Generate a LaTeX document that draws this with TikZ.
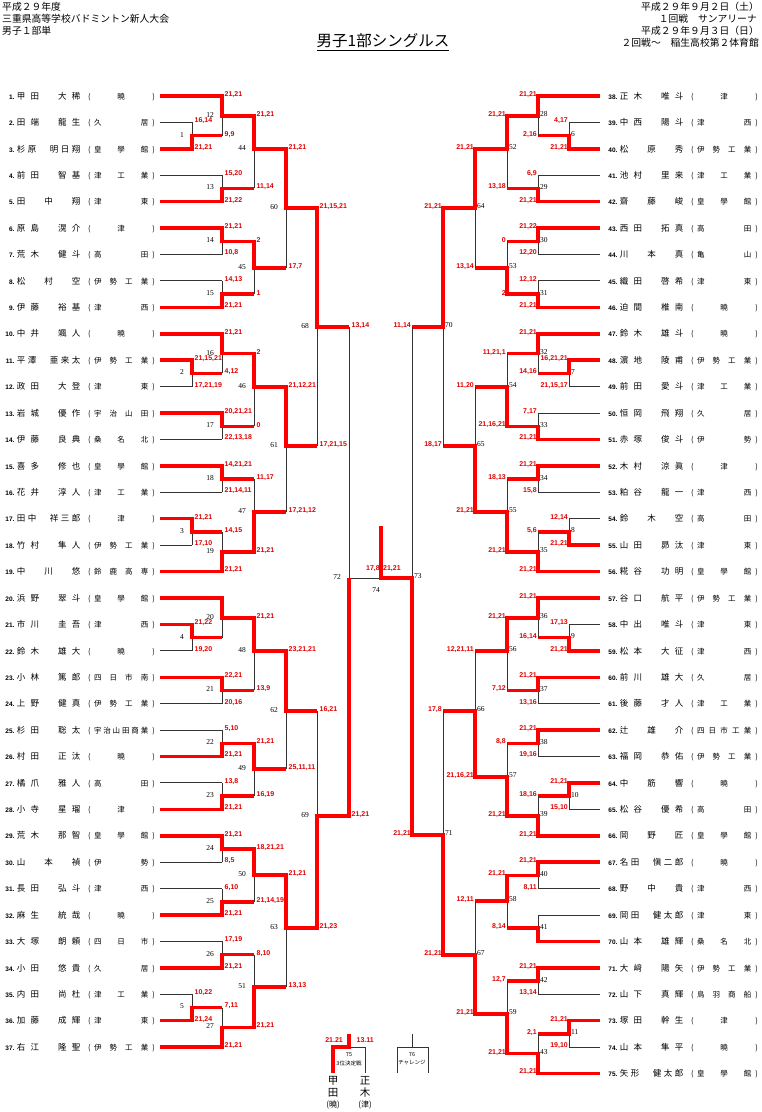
\documentclass[tikz,border=0pt]{standalone}
\usepackage{fontspec}
\setmainfont{Liberation Sans}
\newfontfamily\jp{Noto Sans CJK JP}
\newfontfamily\serf{Liberation Serif}
\definecolor{scred}{RGB}{225,0,0}
\newcommand\scf{\fontsize{7}{7}\selectfont\bfseries}
\newcommand\mnf{\serf\fontsize{7.5}{7.5}\selectfont}
\newcommand\numf{\fontsize{6.5}{6.5}\selectfont\bfseries}
\newcommand\namef{\jp\fontsize{8.5}{8.5}\selectfont}
\newcommand\schf{\jp\fontsize{7.5}{7.5}\selectfont}
\newcommand\hdf{\jp\fontsize{9.8}{9.8}\selectfont}
\newcommand\titf{\jp\fontsize{15.5}{15.5}\selectfont}
\newcommand\bnf{\jp\fontsize{10.5}{10.5}\selectfont}
\newcommand\bsf{\jp\fontsize{8}{8}\selectfont}
\newcommand\tinyf{\jp\fontsize{5.5}{5.5}\selectfont}
\let\E\relax
\def\Sak{\E,曉,\E}
\def\Shi{久,居}
\def\Sko{皇,學,館}
\def\Stk{津,工,業}
\def\Sth{津,東}
\def\Stu{\E,津,\E}
\def\Sta{高,田}
\def\Sik{伊,勢,工,業}
\def\Stn{津,西}
\def\Suj{宇,治,山,田}
\def\Skn{桑,名,北}
\def\Ssk{鈴,鹿,高,専}
\def\Syn{四,日,市,南}
\def\Sus{宇,治,山,田,商,業}
\def\Sis{伊,勢}
\def\Syo{四,日,市}
\def\Skm{亀,山}
\def\Syk{四,日,市,工,業}
\def\Stb{鳥,羽,商,船}
\tikzset{
  win/.style={draw=red, line width=3.5pt, line cap=butt, line join=miter},
  lose/.style={draw=black!80, line width=0.9pt},
  sc/.style={font=\scf, text=scred, inner sep=0pt},
  mn/.style={font=\mnf, inner sep=0pt},
}
\newcommand\dist[4]{\edef\distlist{#4}\hbox to #1{#3\foreach \dch [count=\dk] in \distlist {\ifnum\dk>1 \hfil\fi\hbox to #2{\hss\dch\hss}}}}
\newcommand\pentry[3]{\llap{\numf#1\kern2.5pt}\dist{63.5pt}{8.5pt}{\namef}{#2}\kern7.75pt{\schf(}\kern3.3pt\dist{54.3pt}{7.5pt}{\schf}{#3}\kern4.1pt{\schf)}}
\newcommand\pL[6]{%
  \draw[#4] (160,#2) -- (#3,#2);
  \node[anchor=base west,inner sep=0pt] (p#1) at (16.75,#2+3.2) {\pentry{#1.}{#5}{#6}};}
\newcommand\pR[6]{%
  \draw[#4] (600,#2) -- (#3,#2);
  \node[anchor=base west,inner sep=0pt] (p#1) at (619.75,#2+3.2) {\pentry{#1.}{#5}{#6}};}
\newcommand\lmt[9]{%
  \ifnum#7=1\relax
    \draw[lose] (#2,#5) -- (#2,#6);
    \draw[win] (#2-2,#4) -- (#2,#4) -- (#2,#6) -- (#3,#6);
  \else
    \draw[lose] (#2,#4) -- (#2,#6);
    \draw[win] (#2-2,#5) -- (#2,#5) -- (#2,#6) -- (#3,#6);
  \fi
  \node[sc,anchor=west] (s#1a) at (#2+2.5,#4-1.5) {#8};
  \node[sc,anchor=west] (s#1b) at (#2+2.5,#5-1.5) {#9};
  \node[mn,anchor=east] (m#1) at (#2-8,#6-1) {#1};}
\newcommand\rmt[9]{%
  \ifnum#7=1\relax
    \draw[lose] (#2,#5) -- (#2,#6);
    \draw[win] (#2+2,#4) -- (#2,#4) -- (#2,#6) -- (#3,#6);
  \else
    \draw[lose] (#2,#4) -- (#2,#6);
    \draw[win] (#2+2,#5) -- (#2,#5) -- (#2,#6) -- (#3,#6);
  \fi
  \node[sc,anchor=east] (s#1a) at (#2-1,#4-1.5) {#8};
  \node[sc,anchor=east] (s#1b) at (#2-1,#5-1.5) {#9};
  \node[mn,anchor=west] (m#1) at (#2+2,#6-1.5) {#1};}
\begin{document}
\begin{tikzpicture}[x=1pt,y=-1pt]
\fill[white] (0,0) rectangle (762,1112);
\useasboundingbox (0,0) rectangle (762,1112);
% header
\node[font=\hdf,anchor=west,inner sep=0pt] (h1) at (2,7) {平成２９年度};
\node[font=\hdf,anchor=west,inner sep=0pt] (h2) at (2,19) {三重県高等学校バドミントン新人大会};
\node[font=\hdf,anchor=west,inner sep=0pt] (h3) at (2,31) {男子１部単};
\node[font=\hdf,anchor=east,inner sep=0pt] (r1) at (759,7) {平成２９年９月２日（土）};
\node[font=\hdf,anchor=east,inner sep=0pt] (r2) at (757,19) {１回戦　サンアリーナ};
\node[font=\hdf,anchor=east,inner sep=0pt] (r3) at (759,31) {平成２９年９月３日（日）};
\node[font=\hdf,anchor=east,inner sep=0pt] (r4) at (759,43) {２回戦～　稲生高校第２体育館};
\node[font=\titf,inner sep=0pt] (title) at (383,41) {男子1部シングルス};
\draw[line width=0.9pt] (317,50) -- (449,50);
% left players
\pL{1}{96}{222}{win}{甲,田,\E,大,稀}{\Sak}
\pL{2}{122.42}{192}{lose}{田,端,\E,龍,生}{\Shi}
\pL{3}{148.84}{192}{win}{杉,原,\E,明,日,翔}{\Sko}
\pL{4}{175.26}{222}{lose}{前,田,\E,智,基}{\Stk}
\pL{5}{201.68}{222}{win}{田,\E,中,\E,翔}{\Sth}
\pL{6}{228.10}{222}{win}{原,島,\E,滉,介}{\Stu}
\pL{7}{254.52}{222}{lose}{荒,木,\E,健,斗}{\Sta}
\pL{8}{280.94}{222}{lose}{松,\E,村,\E,空}{\Sik}
\pL{9}{307.36}{222}{win}{伊,藤,\E,裕,基}{\Stn}
\pL{10}{333.78}{222}{win}{中,井,\E,颯,人}{\Sak}
\pL{11}{360.20}{192}{win}{平,澤,\E,亜,来,太}{\Sik}
\pL{12}{386.62}{192}{lose}{政,田,\E,大,登}{\Sth}
\pL{13}{413.04}{222}{win}{岩,城,\E,優,作}{\Suj}
\pL{14}{439.46}{222}{lose}{伊,藤,\E,良,典}{\Skn}
\pL{15}{465.88}{222}{win}{喜,多,\E,修,也}{\Sko}
\pL{16}{492.30}{222}{lose}{花,井,\E,淳,人}{\Stk}
\pL{17}{518.72}{192}{win}{田,中,\E,祥,三,郎}{\Stu}
\pL{18}{545.14}{192}{lose}{竹,村,\E,隼,人}{\Sik}
\pL{19}{571.56}{222}{win}{中,\E,川,\E,悠}{\Ssk}
\pL{20}{597.98}{222}{win}{浜,野,\E,翠,斗}{\Sko}
\pL{21}{624.40}{192}{win}{市,川,\E,圭,吾}{\Stn}
\pL{22}{650.82}{192}{lose}{鈴,木,\E,雄,大}{\Sak}
\pL{23}{677.24}{222}{win}{小,林,\E,篤,郎}{\Syn}
\pL{24}{703.66}{222}{lose}{上,野,\E,健,真}{\Sik}
\pL{25}{730.08}{222}{lose}{杉,田,\E,聡,太}{\Sus}
\pL{26}{756.50}{222}{win}{村,田,\E,正,汰}{\Sak}
\pL{27}{782.92}{222}{lose}{橘,爪,\E,雅,人}{\Sta}
\pL{28}{809.34}{222}{win}{小,寺,\E,星,瑠}{\Stu}
\pL{29}{835.76}{222}{win}{荒,木,\E,那,智}{\Sko}
\pL{30}{862.18}{222}{lose}{山,\E,本,\E,禎}{\Sis}
\pL{31}{888.60}{222}{lose}{長,田,\E,弘,斗}{\Stn}
\pL{32}{915.02}{222}{win}{麻,生,\E,統,哉}{\Sak}
\pL{33}{941.44}{222}{lose}{大,塚,\E,朗,頼}{\Syo}
\pL{34}{967.86}{222}{win}{小,田,\E,悠,貴}{\Shi}
\pL{35}{994.28}{192}{lose}{内,田,\E,尚,杜}{\Stk}
\pL{36}{1020.70}{192}{win}{加,藤,\E,成,輝}{\Sth}
\pL{37}{1047.12}{222}{win}{右,江,\E,隆,聖}{\Sik}
% right players
\pR{38}{96}{538}{win}{正,木,\E,唯,斗}{\Stu}
\pR{39}{122.42}{569}{lose}{中,西,\E,陽,斗}{\Stn}
\pR{40}{148.84}{569}{win}{松,\E,原,\E,秀}{\Sik}
\pR{41}{175.26}{538}{lose}{池,村,\E,里,来}{\Stk}
\pR{42}{201.68}{538}{win}{齋,\E,藤,\E,峻}{\Sko}
\pR{43}{228.10}{538}{win}{西,田,\E,拓,真}{\Sta}
\pR{44}{254.52}{538}{lose}{川,\E,本,\E,真}{\Skm}
\pR{45}{280.94}{538}{lose}{織,田,\E,啓,希}{\Sth}
\pR{46}{307.36}{538}{win}{迫,間,\E,椎,南}{\Sak}
\pR{47}{333.78}{538}{win}{鈴,木,\E,雄,斗}{\Sak}
\pR{48}{360.20}{569}{win}{濵,地,\E,陵,甫}{\Sik}
\pR{49}{386.62}{569}{lose}{前,田,\E,愛,斗}{\Stk}
\pR{50}{413.04}{538}{lose}{恒,岡,\E,飛,翔}{\Shi}
\pR{51}{439.46}{538}{win}{赤,塚,\E,俊,斗}{\Sis}
\pR{52}{465.88}{538}{win}{木,村,\E,涼,眞}{\Stu}
\pR{53}{492.30}{538}{lose}{粕,谷,\E,龍,一}{\Stn}
\pR{54}{518.72}{569}{lose}{鈴,\E,木,\E,空}{\Sta}
\pR{55}{545.14}{569}{win}{山,田,\E,昴,汰}{\Sth}
\pR{56}{571.56}{538}{win}{糀,谷,\E,功,明}{\Sko}
\pR{57}{597.98}{538}{win}{谷,口,\E,航,平}{\Sik}
\pR{58}{624.40}{569}{lose}{中,出,\E,唯,斗}{\Sth}
\pR{59}{650.82}{569}{win}{松,本,\E,大,征}{\Stn}
\pR{60}{677.24}{538}{win}{前,川,\E,雄,大}{\Shi}
\pR{61}{703.66}{538}{lose}{後,藤,\E,才,人}{\Stk}
\pR{62}{730.08}{538}{win}{辻,\E,雄,\E,介}{\Syk}
\pR{63}{756.50}{538}{lose}{福,岡,\E,恭,佑}{\Sik}
\pR{64}{782.92}{569}{win}{中,\E,筋,\E,響}{\Sak}
\pR{65}{809.34}{569}{lose}{松,谷,\E,優,希}{\Sta}
\pR{66}{835.76}{538}{win}{岡,\E,野,\E,匠}{\Sko}
\pR{67}{862.18}{538}{win}{名,田,\E,愼,二,郎}{\Sak}
\pR{68}{888.60}{538}{lose}{野,\E,中,\E,貴}{\Stn}
\pR{69}{915.02}{538}{lose}{岡,田,\E,健,太,郎}{\Sth}
\pR{70}{941.44}{538}{win}{山,本,\E,雄,輝}{\Skn}
\pR{71}{967.86}{538}{win}{大,﨑,\E,陽,矢}{\Sik}
\pR{72}{994.28}{538}{lose}{山,下,\E,真,輝}{\Stb}
\pR{73}{1020.70}{569}{win}{塚,田,\E,幹,生}{\Stu}
\pR{74}{1047.12}{569}{lose}{山,本,\E,隼,平}{\Sak}
\pR{75}{1073.54}{538}{win}{矢,形,\E,健,太,郎}{\Sko}
% left matches
\lmt{1}{192}{222}{122.42}{148.84}{135.63}{2}{16,14}{21,21}
\lmt{2}{192}{222}{360.20}{386.62}{373.41}{1}{21,15,21}{17,21,19}
\lmt{3}{192}{222}{518.72}{545.14}{531.93}{1}{21,21}{17,10}
\lmt{4}{192}{222}{624.40}{650.82}{637.61}{1}{21,22}{19,20}
\lmt{5}{192}{222}{994.28}{1020.70}{1007.49}{2}{10,22}{21,24}
\lmt{12}{222}{254}{96}{135.63}{115.82}{1}{21,21}{9,9}
\lmt{13}{222}{254}{175.26}{201.68}{188.47}{2}{15,20}{21,22}
\lmt{14}{222}{254}{228.10}{254.52}{241.31}{1}{21,21}{10,8}
\lmt{15}{222}{254}{280.94}{307.36}{294.15}{2}{14,13}{21,21}
\lmt{16}{222}{254}{333.78}{373.41}{353.60}{1}{21,21}{4,12}
\lmt{17}{222}{254}{413.04}{439.46}{426.25}{1}{20,21,21}{22,13,18}
\lmt{18}{222}{254}{465.88}{492.30}{479.09}{1}{14,21,21}{21,14,11}
\lmt{19}{222}{254}{531.93}{571.56}{551.75}{2}{14,15}{21,21}
\lmt{20}{222}{254}{597.98}{637.61}{617.80}{1}{}{}
\lmt{21}{222}{254}{677.24}{703.66}{690.45}{1}{22,21}{20,16}
\lmt{22}{222}{254}{730.08}{756.50}{743.29}{2}{5,10}{21,21}
\lmt{23}{222}{254}{782.92}{809.34}{796.13}{2}{13,8}{21,21}
\lmt{24}{222}{254}{835.76}{862.18}{848.97}{1}{21,21}{8,5}
\lmt{25}{222}{254}{888.60}{915.02}{901.81}{2}{6,10}{21,21}
\lmt{26}{222}{254}{941.44}{967.86}{954.65}{2}{17,19}{21,21}
\lmt{27}{222}{254}{1007.49}{1047.12}{1027.31}{2}{7,11}{21,21}
\lmt{44}{254}{286}{115.82}{188.47}{149}{1}{21,21}{11,14}
\lmt{45}{254}{286}{241.31}{294.15}{268}{1}{2}{1}
\lmt{46}{254}{286}{353.60}{426.25}{387}{1}{2}{0}
\lmt{47}{254}{286}{479.09}{551.75}{512}{2}{11,17}{21,21}
\lmt{48}{254}{286}{617.80}{690.45}{651}{1}{21,21}{13,9}
\lmt{49}{254}{286}{743.29}{796.13}{769}{1}{21,21}{16,19}
\lmt{50}{254}{286}{848.97}{901.81}{875}{1}{18,21,21}{21,14,19}
\lmt{51}{254}{286}{954.65}{1027.31}{987}{2}{8,10}{21,21}
\lmt{60}{286}{317}{149}{268}{208}{1}{21,21}{17,7}
\lmt{61}{286}{317}{387}{512}{446}{1}{21,12,21}{17,21,12}
\lmt{62}{286}{317}{651}{769}{711}{1}{23,21,21}{25,11,11}
\lmt{63}{286}{317}{875}{987}{928}{1}{21,21}{13,13}
\lmt{68}{317}{349}{208}{446}{327}{1}{21,15,21}{17,21,15}
\lmt{69}{317}{349}{711}{928}{816}{2}{16,21}{21,23}
% right matches
\rmt{6}{569}{538}{122.42}{148.84}{135.63}{2}{4,17}{21,21}
\rmt{7}{569}{538}{360.20}{386.62}{373.41}{1}{16,21,21}{21,15,17}
\rmt{8}{569}{538}{518.72}{545.14}{531.93}{2}{12,14}{21,21}
\rmt{9}{569}{538}{624.40}{650.82}{637.61}{2}{17,13}{21,21}
\rmt{10}{569}{538}{782.92}{809.34}{796.13}{1}{21,21}{15,10}
\rmt{11}{569}{538}{1020.70}{1047.12}{1033.91}{1}{21,21}{19,10}
\rmt{28}{538}{507}{96}{135.63}{115.82}{1}{21,21}{2,16}
\rmt{29}{538}{507}{175.26}{201.68}{188.47}{2}{6,9}{21,21}
\rmt{30}{538}{507}{228.10}{254.52}{241.31}{1}{21,22}{12,20}
\rmt{31}{538}{507}{280.94}{307.36}{294.15}{2}{12,12}{21,21}
\rmt{32}{538}{507}{333.78}{373.41}{353.60}{1}{21,21}{14,16}
\rmt{33}{538}{507}{413.04}{439.46}{426.25}{2}{7,17}{21,21}
\rmt{34}{538}{507}{465.88}{492.30}{479.09}{1}{21,21}{15,8}
\rmt{35}{538}{507}{531.93}{571.56}{551.75}{2}{5,6}{21,21}
\rmt{36}{538}{507}{597.98}{637.61}{617.80}{1}{21,21}{16,14}
\rmt{37}{538}{507}{677.24}{703.66}{690.45}{1}{21,21}{13,16}
\rmt{38}{538}{507}{730.08}{756.50}{743.29}{1}{21,21}{19,16}
\rmt{39}{538}{507}{796.13}{835.76}{815.95}{2}{18,16}{21,21}
\rmt{40}{538}{507}{862.18}{888.60}{875.39}{1}{21,21}{8,11}
\rmt{41}{538}{507}{915.02}{941.44}{928.23}{2}{}{}
\rmt{42}{538}{507}{967.86}{994.28}{981.07}{1}{21,21}{13,14}
\rmt{43}{538}{507}{1033.91}{1073.54}{1053.73}{2}{2,1}{21,21}
\rmt{52}{507}{475}{115.82}{188.47}{149}{1}{21,21}{13,18}
\rmt{53}{507}{475}{241.31}{294.15}{268}{2}{0}{2}
\rmt{54}{507}{475}{353.60}{426.25}{387}{2}{11,21,1}{21,16,21}
\rmt{55}{507}{475}{479.09}{551.75}{512}{2}{18,13}{21,21}
\rmt{56}{507}{475}{617.80}{690.45}{651}{1}{21,21}{7,12}
\rmt{57}{507}{475}{743.29}{815.95}{777}{2}{8,8}{21,21}
\rmt{58}{507}{475}{875.39}{928.23}{901}{1}{21,21}{8,14}
\rmt{59}{507}{475}{981.07}{1053.73}{1014}{2}{12,7}{21,21}
\rmt{64}{475}{443}{149}{268}{208}{1}{21,21}{13,14}
\rmt{65}{475}{443}{387}{512}{446}{2}{11,20}{21,21}
\rmt{66}{475}{443}{651}{777}{711}{2}{12,21,11}{21,16,21}
\rmt{67}{475}{443}{901}{1014}{955}{2}{12,11}{21,21}
\rmt{70}{443}{412}{208}{446}{327}{1}{21,21}{18,17}
\rmt{71}{443}{412}{711}{955}{835}{2}{17,8}{21,21}
% semifinals and final
\draw[lose] (349,327) -- (349,578) -- (381,578);
\draw[win] (347,816) -- (349,816) -- (349,578);
\draw[lose] (412,327) -- (412,578);
\draw[win] (414,835) -- (412,835) -- (412,578) -- (381,578) -- (381,526);
\node[sc,anchor=west] (s72a) at (351.5,325.5) {13,14};
\node[sc,anchor=west] (s72b) at (351.5,814.5) {21,21};
\node[mn,anchor=east] (m72) at (341,577) {72};
\node[sc,anchor=east] (s73a) at (411,325.5) {11,14};
\node[sc,anchor=east] (s73b) at (411,833.5) {21,21};
\node[mn,anchor=west] (m73) at (414,576.5) {73};
\node[sc,anchor=east] (s74a) at (380,568.5) {17,8};
\node[sc,anchor=west] (s74b) at (383,568.5) {21,21};
\node[mn] (m74) at (376,590) {74};
% third place
\draw[win] (349,1034) -- (349,1047) -- (333,1047) -- (333,1073);
\draw[lose] (349,1047) -- (365,1047) -- (365,1073);
\node[sc,anchor=east] (s75a) at (343,1040) {21.21};
\node[sc,anchor=west] (s75b) at (356.5,1040) {13.11};
\node[font=\tinyf,inner sep=0pt] (m75) at (349,1055) {75};
\node[font=\tinyf,inner sep=0pt] (m75t) at (349,1063) {3位決定戦};
\draw[lose] (412,1034) -- (412,1047);
\draw[lose] (397,1073) -- (397,1047) -- (428,1047) -- (428,1073);
\node[font=\tinyf,inner sep=0pt] (m76) at (412,1055) {76};
\node[font=\tinyf,inner sep=0pt] (m76t) at (412,1063) {チャレンジ};
\node[font=\bnf,inner sep=0pt] (k1) at (333,1081) {甲};
\node[font=\bnf,inner sep=0pt] (k2) at (333,1093) {田};
\node[font=\bsf,inner sep=0pt] (k3) at (333,1105) {(曉)};
\node[font=\bnf,inner sep=0pt] (k4) at (365,1081) {正};
\node[font=\bnf,inner sep=0pt] (k5) at (365,1093) {木};
\node[font=\bsf,inner sep=0pt] (k6) at (365,1105) {(津)};
\end{tikzpicture}
\end{document}
